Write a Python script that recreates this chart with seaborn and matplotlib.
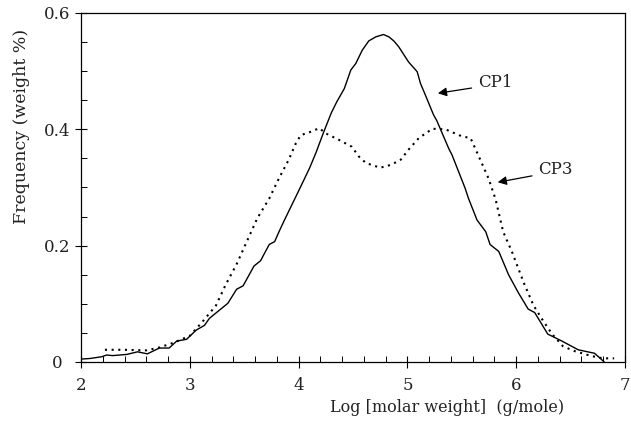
import numpy as np
import pandas as pd
import seaborn as sns
import matplotlib
matplotlib.use("Agg")
import matplotlib.pyplot as plt
from matplotlib.ticker import MultipleLocator, FixedLocator

# ---- data ----
cp1_x = [2.00, 2.08, 2.19, 2.235, 2.29, 2.42, 2.52, 2.61, 2.72, 2.81, 2.88, 2.97,
         3.06, 3.135, 3.18, 3.35, 3.43, 3.49, 3.59, 3.65, 3.73, 3.78, 3.82, 3.87,
         4.005, 4.10, 4.16, 4.23, 4.30, 4.35, 4.42, 4.48, 4.525, 4.585, 4.645, 4.71,
         4.78, 4.83, 4.875, 4.92, 5.01, 5.09, 5.12, 5.165, 5.24, 5.27, 5.38, 5.41,
         5.53, 5.56, 5.64, 5.72, 5.76, 5.84, 5.93, 6.02, 6.11, 6.17, 6.29, 6.42,
         6.57, 6.72, 6.81]
cp1_y = [0.005, 0.006, 0.009, 0.012, 0.011, 0.013, 0.0175, 0.014, 0.024, 0.024, 0.036, 0.039,
         0.055, 0.063, 0.075, 0.101, 0.125, 0.131, 0.165, 0.174, 0.202, 0.207, 0.224, 0.244,
         0.296, 0.333, 0.360, 0.395, 0.428, 0.447, 0.470, 0.502, 0.513, 0.536, 0.552, 0.559,
         0.563, 0.559, 0.552, 0.542, 0.516, 0.499, 0.479, 0.459, 0.425, 0.415, 0.367, 0.356,
         0.299, 0.282, 0.244, 0.224, 0.202, 0.190, 0.150, 0.119, 0.091, 0.085, 0.048, 0.036,
         0.021, 0.015, 0.000]

cp3_x = [2.22, 2.39, 2.60, 2.72, 2.85, 3.00, 3.12, 3.24, 3.33, 3.43, 3.49, 3.56,
         3.62, 3.73, 3.82, 3.91, 3.975, 4.02, 4.10, 4.19, 4.25, 4.37, 4.49, 4.555,
         4.62, 4.75, 4.85, 4.94, 5.01, 5.105, 5.23, 5.35, 5.50, 5.58, 5.65, 5.745,
         5.81, 5.88, 5.96, 6.07, 6.16, 6.25, 6.33, 6.43, 6.54, 6.69, 6.80, 6.90]
cp3_y = [0.021, 0.021, 0.020, 0.025, 0.033, 0.045, 0.070, 0.097, 0.133, 0.168, 0.193, 0.222,
         0.247, 0.281, 0.316, 0.348, 0.376, 0.390, 0.395, 0.402, 0.393, 0.382, 0.370, 0.353,
         0.342, 0.334, 0.339, 0.348, 0.365, 0.385, 0.401, 0.400, 0.388, 0.385, 0.356, 0.316,
         0.280, 0.224, 0.190, 0.136, 0.097, 0.070, 0.048, 0.027, 0.0185, 0.0103, 0.0063, 0.0063]

x_ticks = [2, 3, 4, 5, 6, 7]
x_tick_labels = ["2", "3", "4", "5", "6", "7"]
y_ticks = [0, 0.2, 0.4, 0.6]
y_tick_labels = ["0", "0.2", "0.4", "0.6"]

series_names = ["CP1", "CP3"]
x_label = "Log [molar weight]  (g/mole)"
y_label = "Frequency (weight %)"

df1 = pd.DataFrame({"x": cp1_x, "y": cp1_y})
df3 = pd.DataFrame({"x": cp3_x, "y": cp3_y})

sns.set_style("ticks")
plt.rcParams["font.family"] = ["DejaVu Serif"]

fig = plt.figure(figsize=(6.31, 4.24), dpi=100)
ax = fig.add_axes([81 / 631, 1 - 362 / 424, 544 / 631, 349 / 424])

sns.lineplot(data=df1, x="x", y="y", ax=ax, color="black", linewidth=1.0,
             sort=False, estimator=None)
sns.lineplot(data=df3, x="x", y="y", ax=ax, color="black", linewidth=1.5,
             linestyle=(0, (1, 2.2)), sort=False, estimator=None)

ax.set_xlim(2, 7)
ax.set_ylim(0, 0.6)

ax.xaxis.set_major_locator(FixedLocator(x_ticks))
ax.set_xticklabels(x_tick_labels)
ax.xaxis.set_minor_locator(MultipleLocator(0.2))
ax.yaxis.set_major_locator(FixedLocator(y_ticks))
ax.set_yticklabels(y_tick_labels)
ax.yaxis.set_minor_locator(MultipleLocator(0.05))

ax.tick_params(axis="both", which="major", direction="inout", length=9,
               width=0.8, color="black", labelsize=12, labelcolor="#222222")
ax.tick_params(axis="x", which="major", pad=6)
ax.tick_params(axis="y", which="major", pad=13)
ax.tick_params(axis="both", which="minor", direction="in", length=4,
               width=0.7, color="black")
for lab in ax.get_yticklabels():
    lab.set_ha("center")

for sp in ax.spines.values():
    sp.set_visible(True)
    sp.set_color("black")
    sp.set_linewidth(0.9)

ax.set_xlabel(x_label, fontsize=11.5, color="#222222")
ax.set_ylabel(y_label, fontsize=12.5, color="#222222")
ax.xaxis.set_label_coords(0.673, -0.105)
ax.yaxis.set_label_coords(-0.094, 0.676)

arrow_kw = dict(arrowstyle="-|>", color="black", lw=0.9, mutation_scale=13,
                shrinkA=0, shrinkB=0)
ax.annotate("", xy=(5.28, 0.462), xytext=(5.59, 0.471), arrowprops=arrow_kw)
ax.text(5.65, 0.481, series_names[0], fontsize=12, ha="left", va="center",
        color="#222222")
ax.annotate("", xy=(5.83, 0.309), xytext=(6.145, 0.320), arrowprops=arrow_kw)
ax.text(6.20, 0.331, series_names[1], fontsize=12, ha="left", va="center",
        color="#222222")

fig.savefig("out.png", dpi=100)
